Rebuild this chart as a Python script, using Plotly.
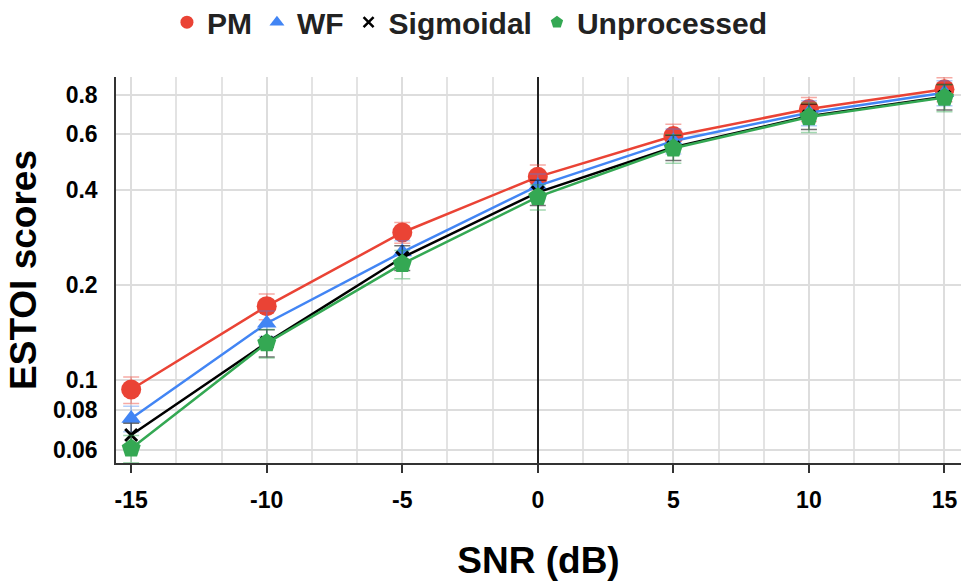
import plotly.graph_objects as go

# SNR conditions (dB)
snr = [-15, -10, -5, 0, 5, 10, 15]

# ESTOI means and standard deviations per method
pm = [0.093, 0.171, 0.293, 0.440, 0.593, 0.722, 0.834]
pm_err = [0.009, 0.016, 0.022, 0.040, 0.053, 0.063, 0.073]

wf = [0.0753, 0.151, 0.254, 0.412, 0.572, 0.703, 0.813]
wf_err = [0.007, 0.014, 0.022, 0.037, 0.052, 0.064, 0.074]

sigmoidal = [0.0667, 0.131, 0.244, 0.393, 0.546, 0.685, 0.790]
sigmoidal_err = [0.006, 0.013, 0.022, 0.036, 0.050, 0.063, 0.073]

unprocessed = [0.0605, 0.1306, 0.233, 0.380, 0.542, 0.681, 0.785]
unprocessed_err = [0.006, 0.0136, 0.024, 0.035, 0.056, 0.073, 0.077]

y_ticks = [0.06, 0.08, 0.1, 0.2, 0.4, 0.6, 0.8]
y_tick_text = ["0.06", "0.08", "0.1", "0.2", "0.4", "0.6", "0.8"]
x_ticks = [-15, -10, -5, 0, 5, 10, 15]

FONT = "Liberation Sans, Arial, sans-serif"

series = [
    ("PM", pm, pm_err, "#EA4335", "rgba(234,67,53,0.45)", "circle", 20),
    ("WF", wf, wf_err, "#4285F4", "rgba(66,133,244,0.40)", "triangle-up", 17),
    ("Sigmoidal", sigmoidal, sigmoidal_err, "#000000", "rgba(0,0,0,0.55)", "x-thin", 12),
    ("Unprocessed", unprocessed, unprocessed_err, "#34A853", "rgba(52,168,83,0.45)", "pentagon", 20),
]

fig = go.Figure()

for name, vals, errs, color, err_color, symbol, size in series:
    fig.add_trace(go.Scatter(
        x=snr, y=vals, name=name, mode="lines+markers",
        line=dict(color=color, width=2.5),
        marker=dict(symbol=symbol, size=size, color=color,
                    line=dict(width=3 if symbol == "x-thin" else 0, color=color)),
        error_y=dict(type="data", array=errs, visible=True,
                     color=err_color, thickness=1.5, width=8),
        showlegend=False,
    ))

# marker-only legend entries
for name, vals, errs, color, err_color, symbol, size in series:
    fig.add_trace(go.Scatter(
        x=[None], y=[None], name=name, mode="markers",
        marker=dict(symbol=symbol, size=13 if symbol != "x-thin" else 10, color=color,
                    line=dict(width=2.5 if symbol == "x-thin" else 0, color=color)),
        showlegend=True,
    ))

fig.update_layout(
    width=963, height=583,
    margin=dict(l=116, r=2, t=77, b=120),
    paper_bgcolor="white", plot_bgcolor="white",
    font=dict(family=FONT, color="black"),
    legend=dict(
        orientation="h", xref="container", yref="container",
        x=0.488, xanchor="center", y=0.962, yanchor="middle",
        font=dict(family=FONT, size=30, weight=700, color="#222222"),
        itemsizing="trace", bgcolor="rgba(0,0,0,0)",
    ),
    xaxis=dict(
        range=[-15.56, 15.61], tickvals=x_ticks, ticktext=[str(v) for v in x_ticks],
        tickfont=dict(family=FONT, size=23, weight=700, color="black"),
        ticks="outside", ticklen=8, tickwidth=1.5, tickcolor="#333333",
        showline=True, linecolor="#333333", linewidth=1.5,
        showgrid=True, gridcolor="#dddddd", gridwidth=1.5,
        minor=dict(dtick=5 / 3, tick0=-15, showgrid=True, gridcolor="#e3e3e3", gridwidth=1.5),
        zeroline=True, zerolinecolor="#222222", zerolinewidth=1.5,
        title=dict(text="SNR (dB)", font=dict(family=FONT, size=37, weight=700, color="black"),
                   standoff=35),
        ticklabelstandoff=8,
    ),
    yaxis=dict(
        type="log", range=[-1.2646, -0.0398],
        tickvals=y_ticks, ticktext=y_tick_text,
        tickfont=dict(family=FONT, size=23, weight=700, color="black"),
        ticks="",
        showline=True, linecolor="#333333", linewidth=1.5,
        showgrid=True, gridcolor="#dddddd", gridwidth=1.5,
        zeroline=False,
        title=dict(text="ESTOI scores", font=dict(family=FONT, size=37, weight=700, color="black"),
                   standoff=5),
        ticklabelstandoff=12,
    ),
)

fig.write_html("out.html")
